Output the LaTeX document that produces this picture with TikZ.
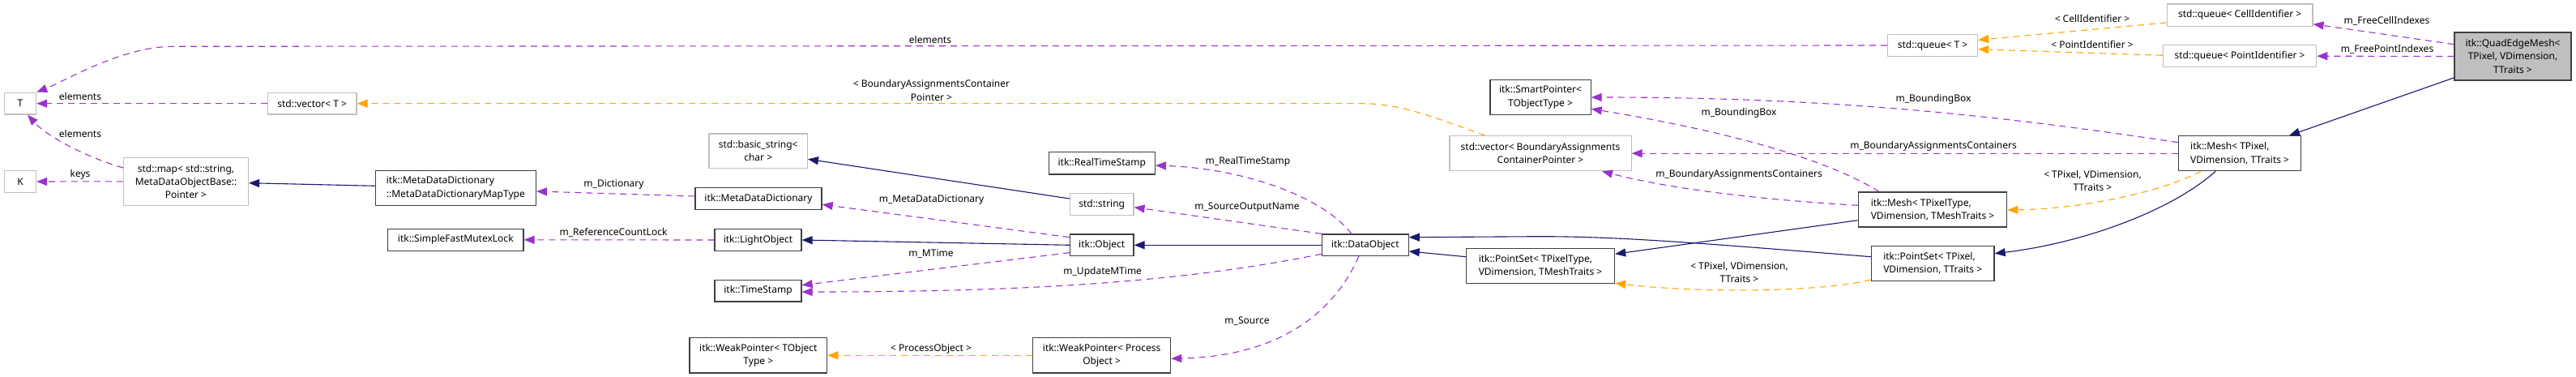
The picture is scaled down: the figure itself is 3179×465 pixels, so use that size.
\documentclass[tikz,border=0pt]{standalone}
\usepackage{fontspec}
\setmainfont{Noto Sans}
\usetikzlibrary{arrows.meta,calc}
\definecolor{edgepurple}{HTML}{9A32CD}
\definecolor{edgeorange}{HTML}{FFA500}
\definecolor{edgenavy}{HTML}{191970}
\definecolor{boxdark}{HTML}{404040}
\definecolor{boxgray}{HTML}{BFBFBF}
\begin{document}
\begin{tikzpicture}[x=1pt,y=-1pt,
  every node/.style={font=\fontsize{12}{16.3}\selectfont, inner sep=0pt},
  docbox/.style={draw=boxdark, line width=1.2pt, fill=white},
  extbox/.style={draw=boxgray, line width=1.2pt, fill=white},
  mainbox/.style={draw=boxdark, line width=1.2pt, fill=boxgray},
  usage/.style={draw=edgepurple, line width=1.1pt, dash pattern=on 8pt off 6pt, -{Triangle[length=13pt,width=10pt]}},
  template/.style={draw=edgeorange, line width=1.1pt, dash pattern=on 8pt off 6pt, -{Triangle[length=13pt,width=10pt]}},
  inherit/.style={draw=edgenavy, line width=1.1pt, -{Triangle[length=13pt,width=10pt]}},
  lbl/.style={fill=none}
]
\useasboundingbox (0,0) rectangle (3179,465);

% nodes
\node[extbox, minimum width=39.2pt, minimum height=26.7pt] (T) at (25,127.7) {T};
\node[extbox, minimum width=39.2pt, minimum height=26.7pt] (K) at (25,224) {K};
\node[extbox, minimum width=109.6pt, minimum height=26.7pt] (vecT) at (385.2,127.7) {std::vector< T >};
\node[extbox, minimum width=154pt, minimum height=59pt, align=center] (map) at (229.5,223.8) {std::map< std::string,\\MetaDataObjectBase::\\Pointer >};
\node[docbox, minimum width=198.2pt, minimum height=42.6pt, align=left] (mapType) at (562.3,232) {itk::MetaDataDictionary\\::MetaDataDictionaryMapType};
\node[docbox, minimum width=167.4pt, minimum height=27pt] (sfml) at (562.3,295.8) {itk::SimpleFastMutexLock};
\node[extbox, minimum width=121.4pt, minimum height=42.7pt, align=center] (bstr) at (935.7,186.3) {std::basic\_string<\\char >};
\node[docbox, minimum width=156.1pt, minimum height=26.6pt] (mdd) at (936,245) {itk::MetaDataDictionary};
\node[docbox, minimum width=107pt, minimum height=26.6pt] (lobj) at (935.5,296) {itk::LightObject};
\node[docbox, minimum width=107pt, minimum height=26.7pt] (tstamp) at (935.5,358.7) {itk::TimeStamp};
\node[docbox, minimum width=169.7pt, minimum height=43.3pt, align=center] (wpt) at (935.8,438.3) {itk::WeakPointer< TObject\\Type >};
\node[docbox, minimum width=131.1pt, minimum height=27.3pt] (rts) at (1359.8,201.3) {itk::RealTimeStamp};
\node[extbox, minimum width=78.6pt, minimum height=26.6pt] (str) at (1359.7,252) {std::string};
\node[docbox, minimum width=78.6pt, minimum height=26.7pt] (obj) at (1359.7,302.3) {itk::Object};
\node[docbox, minimum width=170pt, minimum height=43.3pt, align=center] (wpp) at (1359.6,438.3) {itk::WeakPointer< Process\\Object >};
\node[docbox, minimum width=106.8pt, minimum height=26.7pt] (dobj) at (1684.8,302.3) {itk::DataObject};
\node[docbox, minimum width=124.2pt, minimum height=42.6pt, align=center] (sp) at (1901,120) {itk::SmartPointer<\\TObjectType >};
\node[extbox, minimum width=224.2pt, minimum height=43pt, align=center] (vbac) at (1901,189.2) {std::vector< BoundaryAssignments\\ContainerPointer >};
\node[docbox, minimum width=183.2pt, minimum height=42.6pt, align=left] (pst) at (1901,328) {itk::PointSet< TPixelType,\\VDimension, TMeshTraits >};
\node[extbox, minimum width=111.1pt, minimum height=26.6pt] (qT) at (2385,56) {std::queue< T >};
\node[docbox, minimum width=183.6pt, minimum height=43pt, align=left] (mesht) at (2385,258.5) {itk::Mesh< TPixelType,\\VDimension, TMeshTraits >};
\node[docbox, minimum width=151.7pt, minimum height=43.4pt, align=left] (ps) at (2385.2,325) {itk::PointSet< TPixel,\\VDimension, TTraits >};
\node[docbox, minimum width=151pt, minimum height=43pt, align=left] (meshp) at (2764.1,189.2) {itk::Mesh< TPixel,\\VDimension, TTraits >};
\node[extbox, minimum width=179.7pt, minimum height=27.3pt] (qC) at (2764.1,18.7) {std::queue< CellIdentifier >};
\node[extbox, minimum width=189.3pt, minimum height=27pt] (qP) at (2764,69.2) {std::queue< PointIdentifier >};
\node[mainbox, minimum width=144pt, minimum height=59pt, align=center] (qem) at (3101,69.5) {itk::QuadEdgeMesh<\\TPixel, VDimension,\\TTraits >};

% connectors
\draw[usage] (qT.west) -- (214,57.3) .. controls (150,57.3) and (80,100) .. (T.north east);
\draw[usage] (vecT.west) -- (T.east);
\draw[usage] ($(map.west)+(0,-16.8)$) .. controls (110,195) and (60,170) .. ($(T.south)+(9,0)$);
\draw[usage] (map.west) -- (K.east);
\draw[inherit] ($(mapType.west)+(0,-2.7)$) -- ($(map.east)+(0,1.9)$);
\draw[usage] ($(mdd.west)+(0,-3)$) -- ($(mapType.east)+(0,4)$);
\draw[usage] (lobj.west) -- (sfml.east);
\draw[inherit] (obj.west) -- (lobj.east);
\draw[usage] ($(obj.west)+(0,-9.6)$) -- ($(mdd.east)+(0,7.3)$);
\draw[usage] ($(obj.west)+(0,9.4)$) -- ($(tstamp.east)+(0,-7)$);
\draw[usage] ($(dobj.west)+(0,11)$) .. controls (1450,350) and (1250,360) .. ($(tstamp.east)+(0,1.3)$);
\draw[inherit] (dobj.west) -- (obj.east);
\draw[usage] ($(dobj.north)+(-17,0)$) .. controls (1635,245) and (1540,208) .. ($(rts.east)+(0,2.7)$);
\draw[usage] (dobj.north west) -- ($(str.east)+(0,3.7)$);
\draw[usage] ($(dobj.south)+(-8,0)$) .. controls (1640,400) and (1560,440) .. ($(wpp.east)+(0,4)$);
\draw[template] (wpp.west) -- (wpt.east);
\draw[inherit] ($(str.west)+(0,-7)$) -- ($(bstr.east)+(0,10)$);
\draw[template] ($(vbac.north)+(-68.5,0)$) .. controls (1770,145) and (1730,127.7) .. (1680,127.7) -- (vecT.east);
\draw[inherit] ($(mesht.west)+(0,13.2)$) -- ($(pst.east)+(0,-14.7)$);
\draw[inherit] ($(ps.west)+(0,-8.3)$) .. controls (2100,300) and (2000,291.7) .. (1900,291.7) -- ($(dobj.east)+(0,-9.6)$);
\draw[inherit] ($(pst.west)+(0,-11.3)$) -- ($(dobj.east)+(0,7.7)$);
\draw[template] ($(ps.west)+(0,20)$) .. controls (2250,360) and (2100,362) .. ($(pst.east)+(0,21.3)$);
\draw[template] ($(meshp.south)+(-48,0)$) .. controls (2660,240) and (2560,258) .. ($(mesht.east)+(0,0.5)$);
\draw[inherit] ($(meshp.south)+(-30,0)$) .. controls (2680,260) and (2570,300) .. ($(ps.east)+(0,-12.3)$);
\draw[inherit] ($(qem.south west)+(0,-3.7)$) -- ($(meshp.north)+(61,0)$);
\draw[usage] ($(qem.west)+(0,-14.8)$) -- ($(qC.east)+(0,11)$);
\draw[usage] (qem.west) -- (qP.east);
\draw[template] ($(qC.west)+(0,9.3)$) -- ($(qT.east)+(0,-6.7)$);
\draw[template] ($(qP.west)+(0,-0.9)$) -- ($(qT.east)+(0,4.7)$);
\draw[usage] ($(meshp.west)+(0,-13.5)$) .. controls (2450,140) and (2250,120) .. (sp.east);
\draw[usage] ($(mesht.north)+(-66,0)$) .. controls (2260,200) and (2150,165) .. ($(sp.east)+(0,14.3)$);
\draw[usage] (meshp.west) -- (vbac.east);
\draw[usage] ($(mesht.west)+(0,-5.2)$) .. controls (2150,245) and (2050,230) .. ($(vbac.south)+(76,0)$);

% labels
\node[lbl] (l1) at (1148,48.7) {elements};
\node[lbl] (l2) at (99,119.3) {elements};
\node[lbl] (l3) at (99,164.7) {elements};
\node[lbl] (l4) at (99,215.3) {keys};
\node[lbl] (l5) at (757.5,227.7) {m\_Dictionary};
\node[lbl] (l6) at (757,287.3) {m\_ReferenceCountLock};
\node[lbl, align=center] (l7) at (1149.5,111.5) {< BoundaryAssignmentsContainer\\Pointer >};
\node[lbl] (l8) at (1149.6,246.7) {m\_MetaDataDictionary};
\node[lbl] (l9) at (1149,312.7) {m\_MTime};
\node[lbl] (l10) at (1360.7,335.3) {m\_UpdateMTime};
\node[lbl] (l11) at (1540,199.3) {m\_RealTimeStamp};
\node[lbl] (l12) at (1539,255.3) {m\_SourceOutputName};
\node[lbl] (l13) at (1539,395.7) {m\_Source};
\node[lbl] (l14) at (1149,430.7) {< ProcessObject >};
\node[lbl] (l15) at (2146,139.3) {m\_BoundingBox};
\node[lbl] (l16) at (2386,122.7) {m\_BoundingBox};
\node[lbl] (l17) at (2386,180.3) {m\_BoundaryAssignmentsContainers};
\node[lbl] (l18) at (2146,215.7) {m\_BoundaryAssignmentsContainers};
\node[lbl, align=center] (l19) at (2582.5,223.3) {< TPixel, VDimension,\\TTraits >};
\node[lbl, align=center] (l20) at (2146.5,336.3) {< TPixel, VDimension,\\TTraits >};
\node[lbl] (l21) at (2582,23.3) {< CellIdentifier >};
\node[lbl] (l22) at (2582,55.3) {< PointIdentifier >};
\node[lbl] (l23) at (2945.5,26.3) {m\_FreeCellIndexes};
\node[lbl] (l24) at (2946,60.7) {m\_FreePointIndexes};
\end{tikzpicture}
\end{document}
